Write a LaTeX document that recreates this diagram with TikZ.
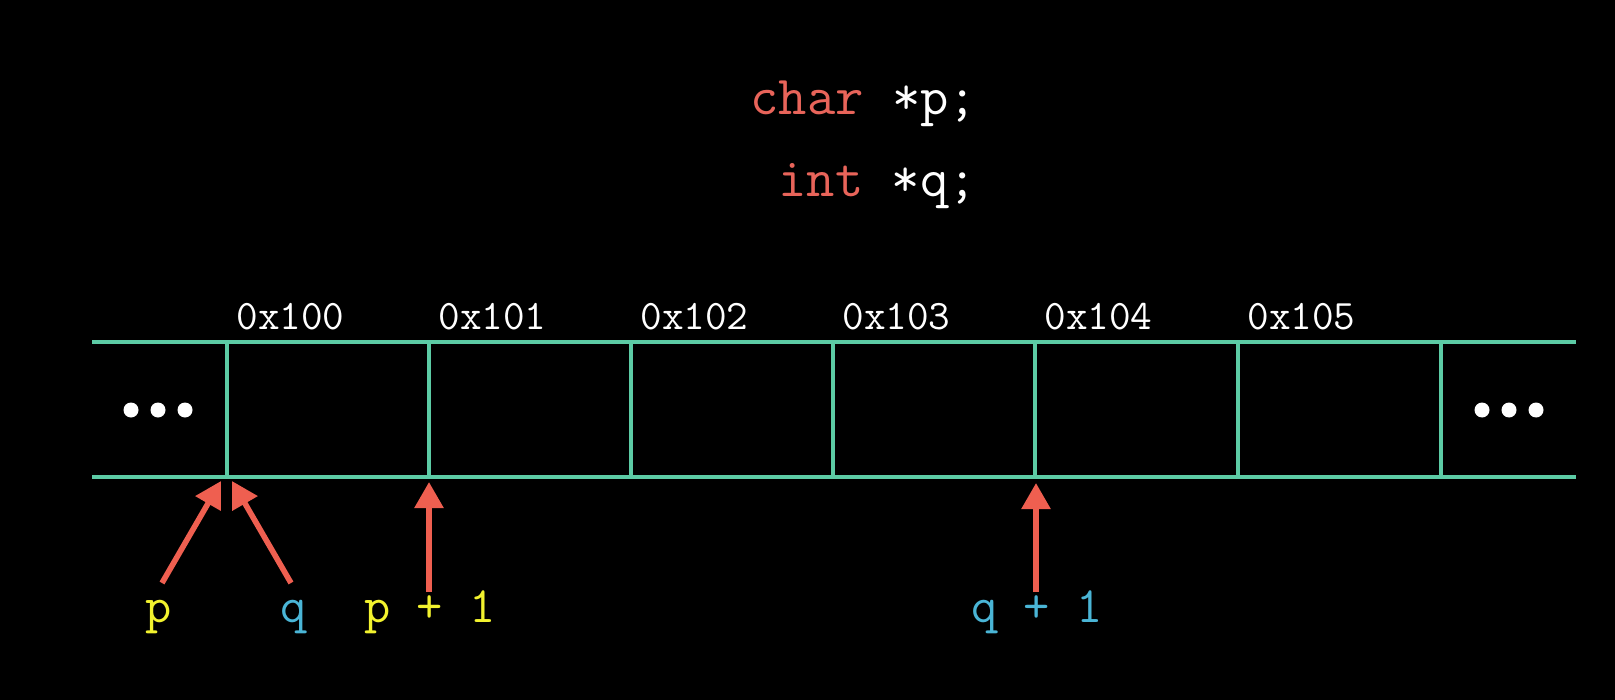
\documentclass[tikz,border=0pt]{standalone}
\usetikzlibrary{arrows.meta}
\definecolor{memline}{HTML}{5CCBA5}
\definecolor{kwred}{HTML}{E8645A}
\definecolor{arrred}{HTML}{EF5F50}
\definecolor{ptryel}{HTML}{F2F22E}
\definecolor{ptrblue}{HTML}{4AB5D6}
\tikzset{
  mem/.style={draw=memline, line width=2.3pt},
  addr/.style={anchor=base west, inner sep=0pt, text=white, font=\ttfamily\fontsize{21}{25}\selectfont},
  code/.style={anchor=base west, inner sep=0pt, font=\ttfamily\fontsize{27.5}{32}\selectfont},
  lbl/.style={anchor=base, inner sep=0pt, font=\ttfamily\fontsize{25.5}{30}\selectfont},
  ptr/.style={draw=arrred, line width=2.8pt, -{Triangle[width=14pt,length=13pt]}},
  dot/.style={circle, fill=white, minimum size=7.5pt, inner sep=0pt}
}
\begin{document}
\begin{tikzpicture}[x=0.5pt,y=-0.5pt]
\fill[black] (0,0) rectangle (1615,700);
\useasboundingbox (0,0) rectangle (1615,700);
% code
\node[code] (c1) at (750,115) {\textcolor{kwred}{char} \textcolor{white}{*p;}};
\node[code] (c2) at (778,197) {\textcolor{kwred}{int} \textcolor{white}{*q;}};
% memory strip
\draw[mem] (92,342) -- (1576,342);
\draw[mem] (92,477) -- (1576,477);
\foreach \i/\x in {0/227,1/429,2/631,3/833,4/1035,5/1238,6/1441}{
  \coordinate (t\i) at (\x,342);
  \coordinate (b\i) at (\x,477);
  \draw[mem] (t\i) -- (b\i);
}
\foreach \i/\x/\a in {0/227/0x100,1/429/0x101,2/631/0x102,3/833/0x103,4/1035/0x104,5/1238/0x105}{
  \node[addr] (a\i) at (\x+9,329) {\a};
}
% dots
\node[dot] (dl1) at (131,410) {};
\node[dot] (dl2) at (158,410) {};
\node[dot] (dl3) at (185,410) {};
\node[dot] (dr1) at (1482,410) {};
\node[dot] (dr2) at (1509,410) {};
\node[dot] (dr3) at (1536,410) {};
% labels
\node[lbl, text=ptryel] (lp) at (159,622) {p};
\node[lbl, text=ptrblue] (lq) at (294,622) {q};
\node[lbl, text=ptryel] (lp1) at (430,622) {p + 1};
\node[lbl, text=ptrblue] (lq1) at (1037,622) {q + 1};
% arrows
\coordinate (sp) at (162,583);
\coordinate (ep) at (221,481);
\coordinate (sq) at (291,583);
\coordinate (eq) at (232,481);
\coordinate (sp1) at (429,592);
\coordinate (ep1) at (429,482);
\coordinate (sq1) at (1036,592);
\coordinate (eq1) at (1036,483);
\draw[ptr] (sp) -- (ep);
\draw[ptr] (sq) -- (eq);
\draw[ptr] (sp1) -- (ep1);
\draw[ptr] (sq1) -- (eq1);
\end{tikzpicture}
\end{document}
